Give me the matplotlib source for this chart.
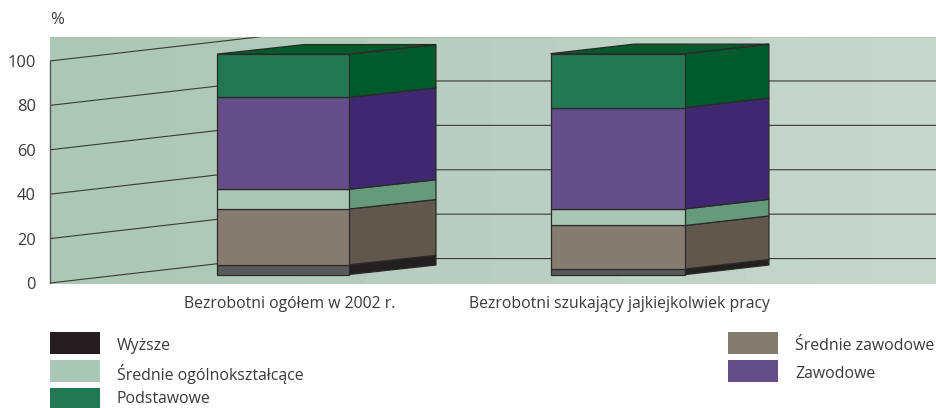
import matplotlib
matplotlib.use("Agg")
import matplotlib.pyplot as plt
import numpy as np
from matplotlib.colors import LinearSegmentedColormap
from matplotlib.patches import Rectangle

plt.rcParams["font.family"] = ["Open Sans", "DejaVu Sans"]

categories = ["Bezrobotni ogółem w 2002 r.", "Bezrobotni szukający jajkiejkolwiek pracy"]
levels = ["Wyższe", "Średnie zawodowe", "Średnie ogólnokształcące", "Zawodowe", "Podstawowe"]
ogolem = [4.4, 25.1, 8.9, 41.4, 19.5]
szukajacy = [2.5, 19.6, 7.5, 45.6, 24.3]
y_ticks = [0, 20, 40, 60, 80, 100]

front_colors = ["#58595b", "#857c6f", "#a9c7b5", "#634e8a", "#217853"]
side_colors = ["#231f20", "#60584c", "#659b7c", "#3f2870", "#005a2b"]
legend_colors = ["#231f20", "#857c6f", "#a9c7b5", "#634e8a", "#217853"]
line_col = "#2b2a29"

W, H = 936, 408
fig = plt.figure(figsize=(W / 100, H / 100), dpi=100)
ax = fig.add_axes([50 / W, 1 - 284 / H, (W - 50) / W, (284 - 37) / H])
ax.set_xlim(-0.693, 1.948)
ax.set_ylim(-0.45, 110.8)

# tlo z gradientem
cmap = LinearSegmentedColormap.from_list("bg", ["#abc7b6", "#c8d7ce"])
ax.imshow(np.linspace(0, 1, 14).reshape(1, -1), cmap=cmap, aspect="auto",
          extent=[-0.693, 1.948, -0.45, 110.8], zorder=0, interpolation="nearest")

# siatka: skos na lewej scianie i poziomo na tylnej
wall_dx, wall_dy = 0.632, 11.0
for v in y_ticks:
    ax.plot([-0.693, -0.693 + wall_dx, 1.948], [v, v + wall_dy, v + wall_dy],
            color="#3a3a38", lw=0.8, zorder=1, solid_capstyle="butt")

# slupki
floor = 3.8
depth_y = 4.3
lefts = [-0.195, 0.799]
widths = [0.392, 0.402]
depths = [0.2605, 0.249]
for i, vals in enumerate([ogolem, szukajacy]):
    x0, x1 = lefts[i], lefts[i] + widths[i]
    x2 = x1 + depths[i]
    bottom = floor
    for v, fc, sc in zip(vals, front_colors, side_colors):
        ax.bar(x0, v, widths[i], bottom=bottom, align="edge", color=fc,
               edgecolor=line_col, lw=0.9, zorder=3)
        ax.fill([x1, x2, x2, x1], [bottom, bottom + depth_y, bottom + v + depth_y, bottom + v],
                facecolor=sc, edgecolor=line_col, lw=0.9, zorder=2)
        bottom += v
    ax.fill([x0, x0 + depths[i], x2, x1], [bottom, bottom + depth_y, bottom + depth_y, bottom],
            facecolor=side_colors[-1], edgecolor=line_col, lw=0.9, zorder=2)

for s in ["top", "right", "bottom"]:
    ax.spines[s].set_visible(False)
ax.spines["left"].set_bounds(0, 100)
ax.spines["left"].set_color("#55564f")
ax.spines["left"].set_linewidth(1.0)

ax.set_yticks(y_ticks)
ax.tick_params(axis="y", length=0, pad=10, labelsize=11.8, labelcolor="#3a3a3a")
ax.set_xticks([0.02, 1.005])
ax.set_xticklabels(categories)
ax.tick_params(axis="x", length=0, pad=9, labelsize=11.3, labelcolor="#3a3a3a")

fig.text(50 / W, 1 - 20 / H, "%", fontsize=12, color="#3a3a3a", ha="left", va="center")

# legenda
legend_pos = [(50, 332), (728, 332), (50, 360), (728, 360), (50, 388)]
text_y = [346, 346, 374, 374, 399]
for (px, py), ty, name, col in zip(legend_pos, text_y, levels, legend_colors):
    fig.add_artist(Rectangle((px / W, 1 - (py + 22) / H), 50 / W, 22 / H, color=col, lw=0,
                             transform=fig.transFigure))
    fig.text((px + 67) / W, 1 - ty / H, name, fontsize=11.4, color="#3a3a3a",
             ha="left", va="center")

fig.savefig("out.png", dpi=100)
